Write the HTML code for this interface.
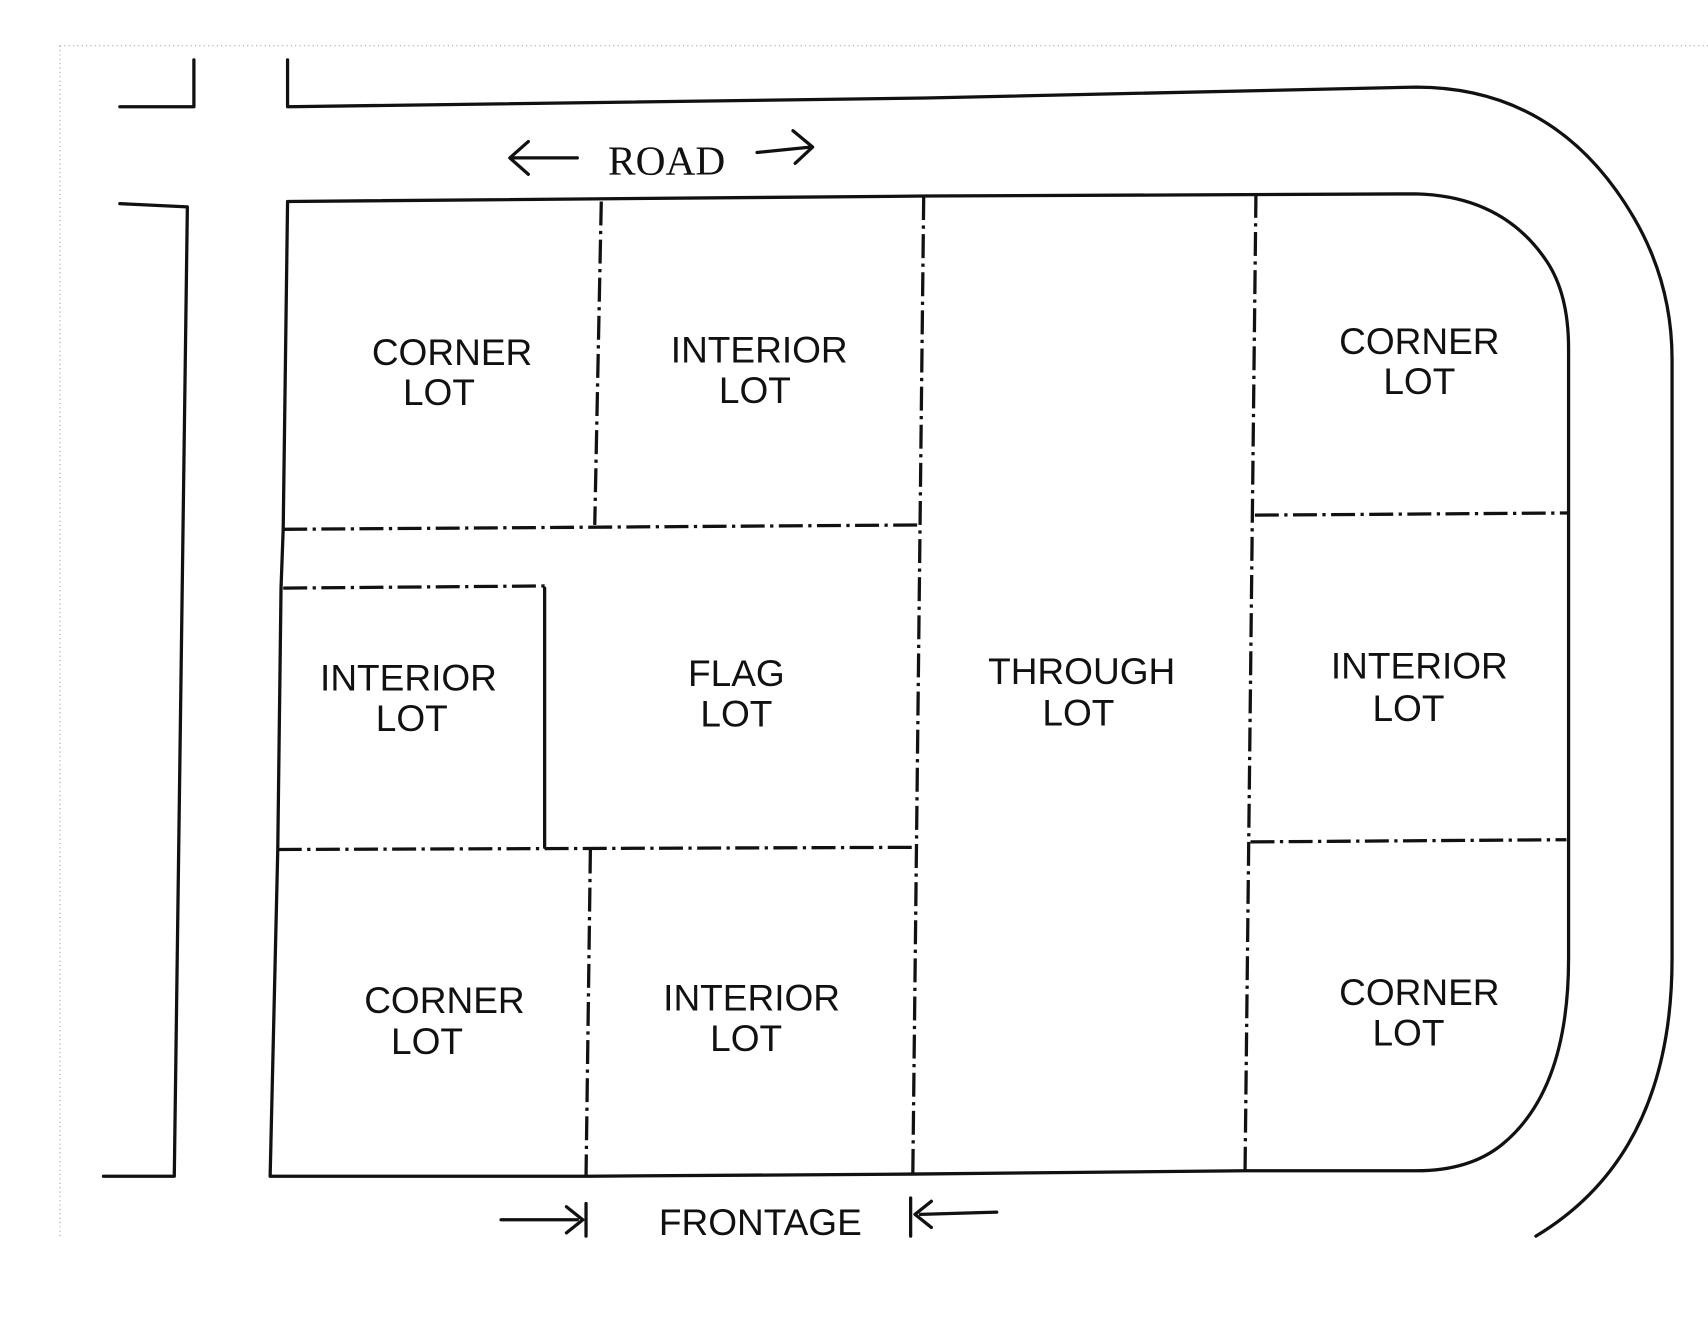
<!DOCTYPE html>
<html><head><style>html,body{margin:0;padding:0;background:#fff}svg{display:block}</style></head>
<body>
<svg width="1708" height="1320" viewBox="0 0 1568 1212" preserveAspectRatio="none" xmlns="http://www.w3.org/2000/svg">
<g fill="none" stroke="#999" stroke-width="1" stroke-dasharray="1,3">
<line x1="55" y1="42" x2="1568" y2="42"/><line x1="55" y1="42" x2="55" y2="1135"/>
</g>
<g fill="none" stroke="#111" stroke-width="3" stroke-linecap="round" stroke-linejoin="round">
<path d="M110,98 L178,98 L178,55"/>
<path d="M264,55 L264,98 L850,90 L1300,80 Q1430,80 1500,200 Q1535,260 1535,330 L1535,880 Q1535,1060 1410,1135"/>
<path d="M110,187 L172,190 L160,1080 L95,1080"/>
<path d="M264,185 L850,180 L1300,178 Q1380,180 1420,240 Q1440,270 1440,320 L1440,880 Q1440,1000 1380,1050 Q1350,1075 1300,1075 L1143,1075 L838,1078 L540,1080 L248,1080 L255,780 L258,540 L260,485 L264,185"/>
<path d="M500,540 L500,778"/>
<path d="M460,1120 L530,1120 M520,1108 L535,1120 L520,1132 M538,1105 L538,1135"/>
<path d="M915,1113 L845,1115 M855,1103 L840,1115 L855,1127 M836,1100 L836,1135"/>
<path d="M470,145 L530,145 M485,130 L468,145 L485,160"/>
<path d="M695,140 L745,135 M728,120 L746,135 L730,150"/>
</g>
<g fill="none" stroke="#111" stroke-width="3" stroke-dasharray="22,5,3,5">
<path d="M552,185 L546,482"/>
<path d="M848,180 L838,1078"/>
<path d="M1153,178 L1143,1075"/>
<path d="M542,780 L538,1080"/>
<path d="M260,486 L845,482"/>
<path d="M255,780 L840,778"/>
<path d="M260,540 L500,538"/>
<path d="M1152,473 L1440,471"/>
<path d="M1148,773 L1438,771"/>
</g>
<g font-family="Liberation Sans, sans-serif" font-size="34" fill="#111" text-anchor="middle">
<text x="612" y="160" font-family="Liberation Serif, serif" font-size="38">ROAD</text>
<text x="698" y="1134">FRONTAGE</text>
<text x="415" y="335">CORNER</text><text x="403" y="372">LOT</text>
<text x="697" y="333">INTERIOR</text><text x="693" y="370">LOT</text>
<text x="1303" y="325">CORNER</text><text x="1303" y="362">LOT</text>
<text x="375" y="634">INTERIOR</text><text x="378" y="671">LOT</text>
<text x="676" y="630">FLAG</text><text x="676" y="667">LOT</text>
<text x="993" y="628">THROUGH</text><text x="990" y="666">LOT</text>
<text x="1303" y="623">INTERIOR</text><text x="1293" y="662">LOT</text>
<text x="408" y="930">CORNER</text><text x="392" y="968">LOT</text>
<text x="690" y="928">INTERIOR</text><text x="685" y="965">LOT</text>
<text x="1303" y="923">CORNER</text><text x="1293" y="960">LOT</text>
</g>
</svg>
</body></html>
